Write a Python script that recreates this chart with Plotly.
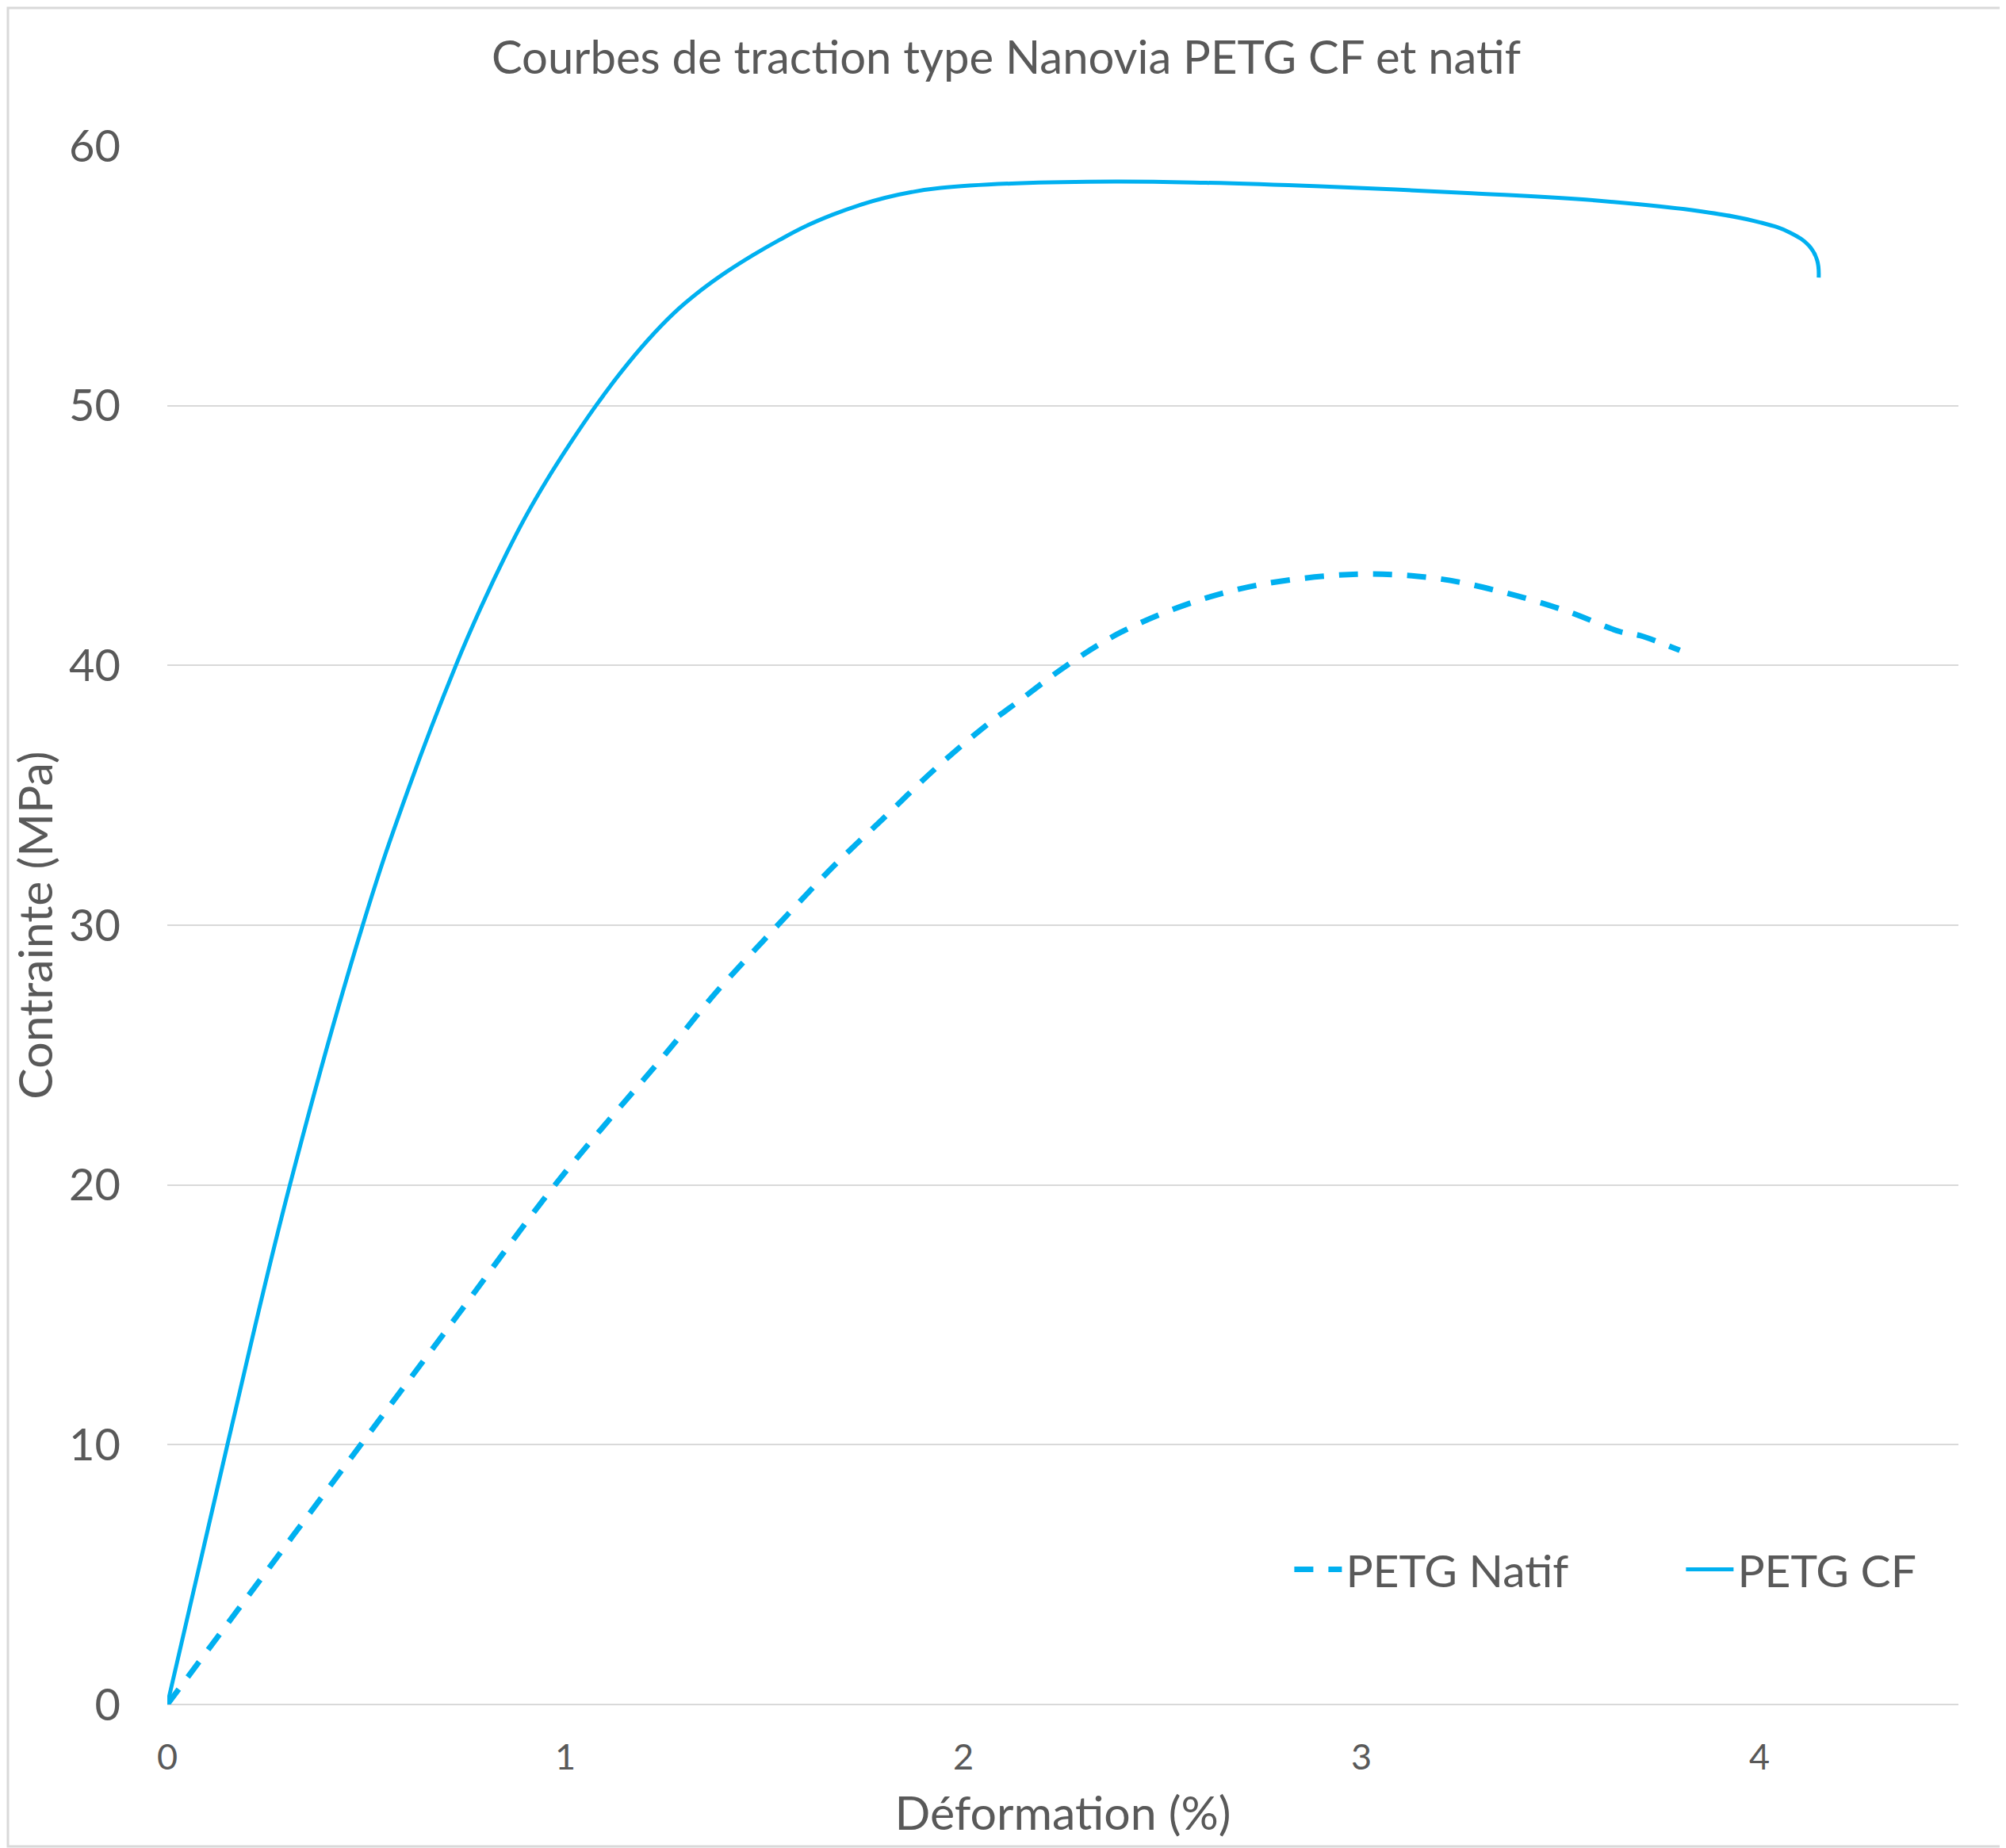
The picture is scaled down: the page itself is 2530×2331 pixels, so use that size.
import plotly.graph_objs as go

# PETG CF (trait plein)
cf_x = [0, 0.151, 0.308, 0.491, 0.607, 0.725, 0.79, 0.852, 0.90, 0.953, 1.015, 1.077, 1.140,
        1.206, 1.272, 1.339, 1.405, 1.472, 1.538, 1.604, 1.671, 1.737, 1.803, 1.870, 1.943,
        2.134, 2.381, 2.61, 2.896, 3.277, 3.563, 3.848, 4.0, 4.077, 4.125, 4.145, 4.149]
cf_y = [0, 10, 20, 30, 35.3, 40, 42.3, 44.3, 45.72, 47.12, 48.61, 50, 51.29,
        52.5, 53.55, 54.42, 55.15, 55.8, 56.38, 56.91, 57.35, 57.71, 58.0, 58.22, 58.38,
        58.56, 58.63, 58.58, 58.44, 58.18, 57.93, 57.49, 57.06, 56.66, 56.15, 55.6, 54.93]

# PETG Natif (pointillés)
nat_x = [0, 0.243, 0.486, 0.73, 0.974, 1.26, 1.379, 1.498, 1.558, 1.677, 1.803, 1.930,
         2.062, 2.132, 2.26, 2.395, 2.561, 2.742, 2.99, 3.188, 3.353, 3.518, 3.65, 3.70, 3.80]
nat_y = [0, 5.0, 10, 15, 20, 25.2, 27.42, 29.41, 30.4, 32.32, 34.17, 36.03,
         37.75, 38.54, 40, 41.27, 42.35, 43.1, 43.51, 43.35, 42.83, 42.08, 41.3, 41.15, 40.58]

couleur = '#00B0F0'
gris = '#595959'
police = 'Lato, Open Sans, sans-serif'

# la page ajoute 8 px de marge autour du graphique
W, H = 2522, 2323
ml, mr, mt, mb = 203, 60, 176, 181
pw, ph = W - ml - mr, H - mt - mb

fig = go.Figure()
fig.add_trace(go.Scatter(x=nat_x, y=nat_y, name='PETG Natif', mode='lines',
                         line=dict(color=couleur, width=7, dash='24px,19px', shape='spline', smoothing=1)))
fig.add_trace(go.Scatter(x=cf_x, y=cf_y, name='PETG CF', mode='lines',
                         line=dict(color=couleur, width=5, shape='spline', smoothing=1.2)))

fig.update_xaxes(range=[0, 4.5], tickvals=[0, 1, 2, 3, 4], showgrid=False, zeroline=False,
                 showline=False, ticks='', ticklabelstandoff=36, automargin=False,
                 tickfont=dict(size=45, color=gris, family=police),
                 title=dict(text='Déformation (%)', font=dict(size=59, color=gris, family=police), standoff=25))
fig.update_yaxes(range=[0, 60], dtick=10, showgrid=True, gridcolor='#D9D9D9', gridwidth=2,
                 zeroline=True, zerolinecolor='#D9D9D9', zerolinewidth=2, showline=False, ticks='',
                 ticklabelstandoff=58, automargin=False,
                 tickfont=dict(size=56, color=gris, family=police),
                 title=dict(text='Contrainte (MPa)', font=dict(size=59, color=gris, family=police), standoff=7))

fig.update_layout(
    width=W, height=H,
    margin=dict(l=ml, r=mr, t=mt, b=mb, autoexpand=False),
    paper_bgcolor='white', plot_bgcolor='white',
    title=dict(text='Courbes de traction type Nanovia PETG CF et natif', x=0.5, xanchor='center',
               y=1 - 65 / H, yanchor='middle', font=dict(size=58, color=gris, family=police)),
    legend=dict(orientation='h', x=0.627, y=0.0865, xanchor='left', yanchor='middle',
                font=dict(size=57, color=gris, family=police), itemwidth=60, entrywidth=419,
                bgcolor='rgba(0,0,0,0)'),
    showlegend=True,
)

# cadre gris autour du graphique
fig.add_shape(type='rect', xref='paper', yref='paper',
              x0=-(ml - 2) / pw, x1=1 + (mr - 2) / pw, y0=-(mb - 2) / ph, y1=1 + (mt - 2) / ph,
              line=dict(color='#D9D9D9', width=3))

fig.write_html('out.html')
